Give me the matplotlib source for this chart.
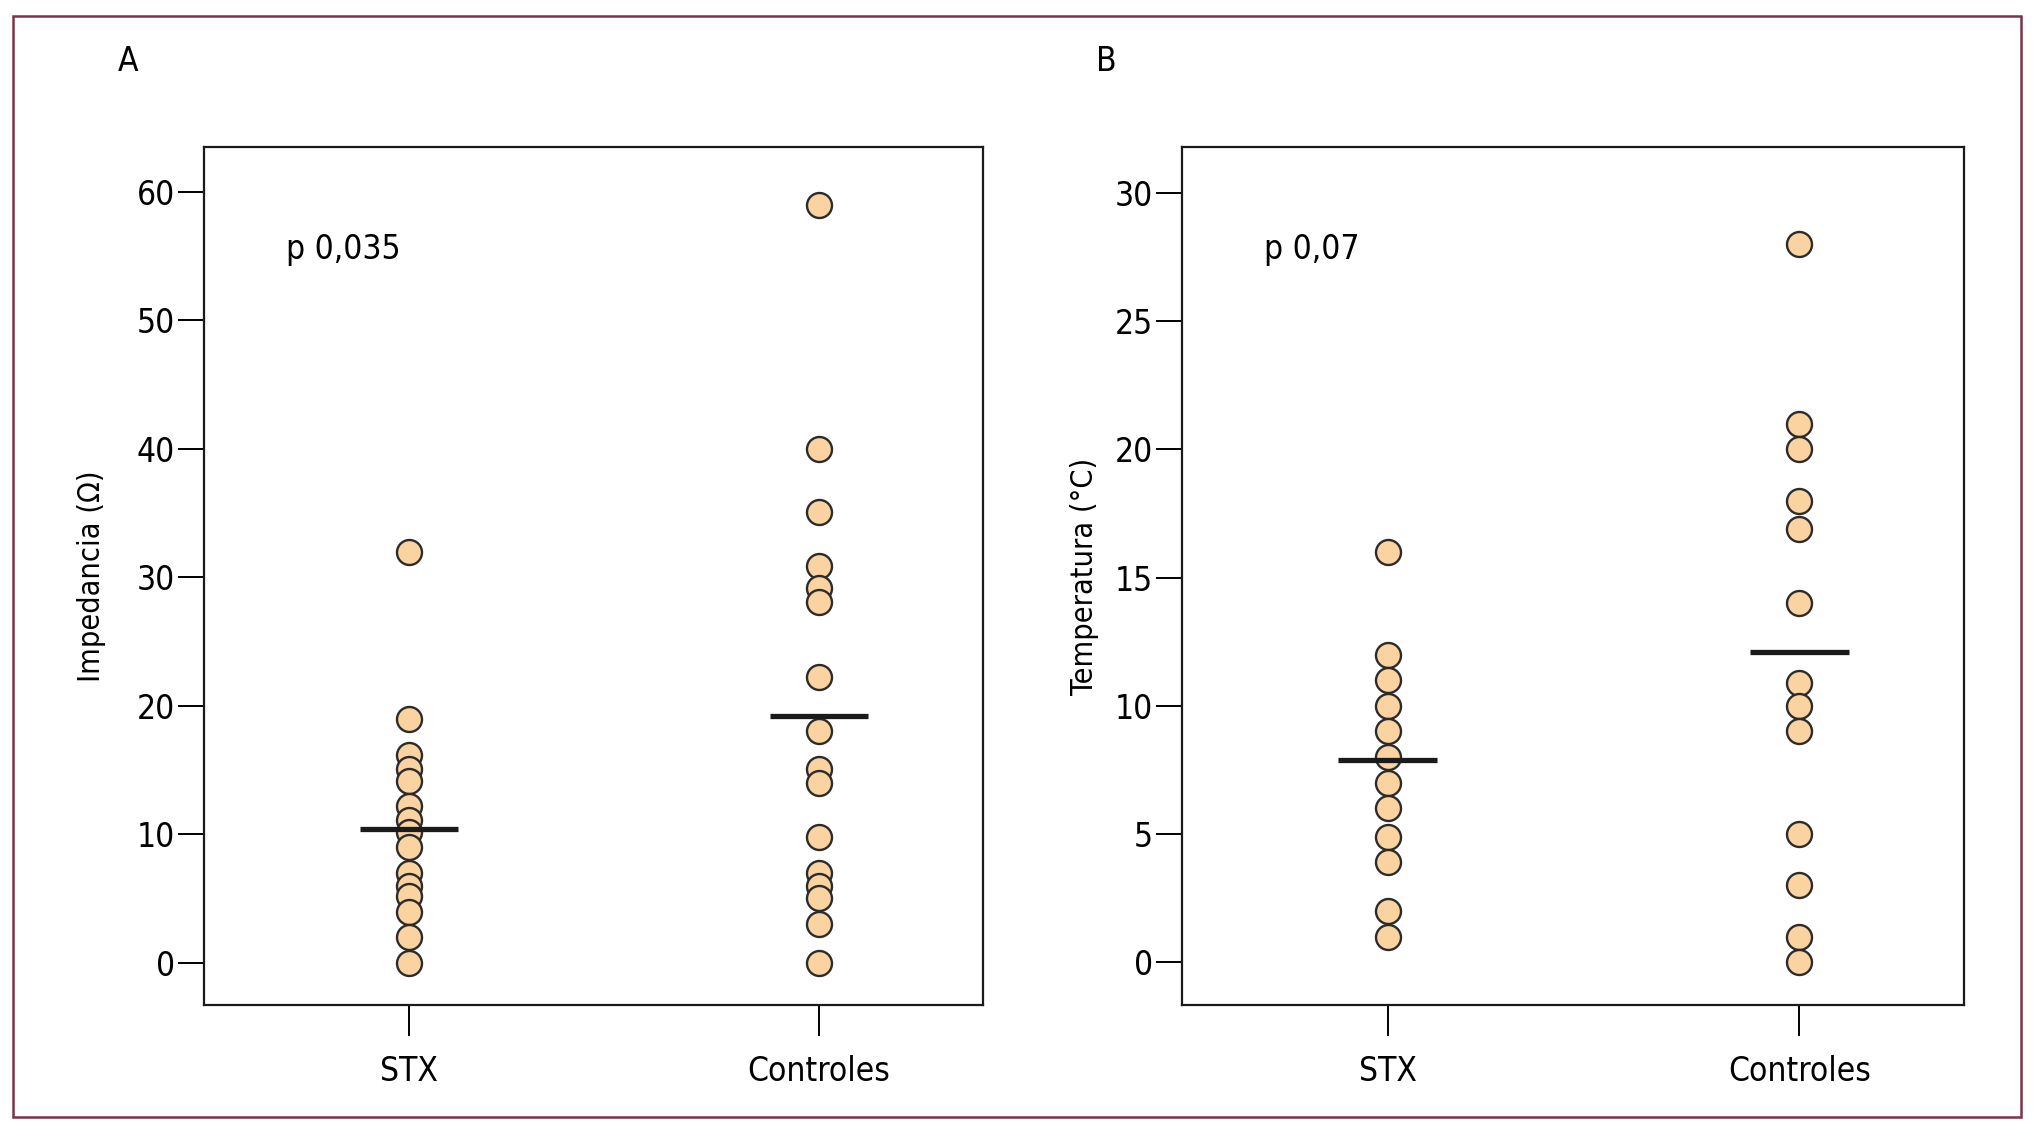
import matplotlib
matplotlib.use('Agg')
import matplotlib.pyplot as plt
from matplotlib import font_manager
from matplotlib.patches import Rectangle

# buscar una fuente estrecha si existe
fonts = font_manager.fontManager.ttflist
names = {f.name for f in fonts}
if 'Liberation Sans Narrow' in names:
    plt.rcParams['font.family'] = ['Liberation Sans Narrow', 'DejaVu Sans']
elif any(f.name == 'DejaVu Sans' and f.stretch in ('condensed', 'semi-condensed') for f in fonts):
    plt.rcParams['font.family'] = ['DejaVu Sans']
    plt.rcParams['font.stretch'] = 'condensed'
else:
    narrow = sorted(n for n in names if 'Narrow' in n or 'Condensed' in n)
    plt.rcParams['font.family'] = narrow[:1] + ['DejaVu Sans']

# datos
groups = ['STX', 'Controles']

imp_stx = [32, 19, 16.2, 15.1, 14.1, 12.2, 11.1, 10.2, 9, 7, 6, 5.2, 3.9, 2, 0]
imp_ctrl = [59, 40, 35.1, 30.9, 29.2, 28.1, 22.2, 18, 15.1, 14, 9.8, 7, 6, 5, 3, 0]
imp_lines = [10.4, 19.2]

temp_stx = [16, 12, 11, 10, 9, 8, 7, 6, 4.9, 3.9, 2, 1]
temp_ctrl = [28, 21, 20, 18, 16.9, 14, 10.9, 10, 9, 5, 3, 1, 0]
temp_lines = [7.9, 12.1]

imp_ticks = [0, 10, 20, 30, 40, 50, 60]
temp_ticks = [0, 5, 10, 15, 20, 25, 30]

FILL = '#fbd3a0'
EDGE = '#2b2b2b'
FS = 24

fig = plt.figure(figsize=(20.37, 11.33), dpi=100)

# marco exterior
fig.patches.append(Rectangle((0.0064, 0.0141), 0.9858, 0.9718, transform=fig.transFigure,
                             fill=False, edgecolor='#7d3347', linewidth=1.8))


def panel(ax, stx, ctrl, lines, ticks, ylim, ylabel, ptext, lab_x):
    for i, vals in enumerate([stx, ctrl]):
        ax.plot([i] * len(vals), vals, 'o', markersize=18, markerfacecolor=FILL,
                markeredgecolor=EDGE, markeredgewidth=1.7, linestyle='none', zorder=3)
        ax.plot([i - 0.12, i + 0.12], [lines[i], lines[i]], color='#1a1a1a',
                linewidth=3.8, solid_capstyle='butt', zorder=4)
    ax.set_xlim(-0.5, 1.4)
    ax.set_ylim(*ylim)
    ax.set_xticks([0, 1])
    ax.set_xticklabels(groups)
    ax.set_yticks(ticks)
    ax.tick_params(axis='y', direction='out', length=19, width=1.4, pad=2, labelsize=FS)
    ax.tick_params(axis='x', direction='out', length=22, width=1.4, pad=14, labelsize=FS)
    for sp in ax.spines.values():
        sp.set_linewidth(1.6)
        sp.set_color('#1a1a1a')
    ax.set_ylabel(ylabel, fontsize=22)
    ax.yaxis.set_label_coords(lab_x, 0.5)
    ax.text(0.105, 0.881, ptext, transform=ax.transAxes, fontsize=FS,
            ha='left', va='center')


ax1 = fig.add_axes([0.1001, 0.1130, 0.3825, 0.7573])
ax2 = fig.add_axes([0.5803, 0.1130, 0.3839, 0.7573])

panel(ax1, imp_stx, imp_ctrl, imp_lines, imp_ticks, (-3.3, 63.5),
      'Impedancia (Ω)', 'p 0,035', -0.126)
panel(ax2, temp_stx, temp_ctrl, temp_lines, temp_ticks, (-1.67, 31.8),
      'Temperatura (°C)', 'p 0,07', -0.106)

fig.text(0.058, 0.9453, 'A', fontsize=FS, ha='left', va='center')
fig.text(0.538, 0.9453, 'B', fontsize=FS, ha='left', va='center')

fig.savefig('out.png', dpi=100)
